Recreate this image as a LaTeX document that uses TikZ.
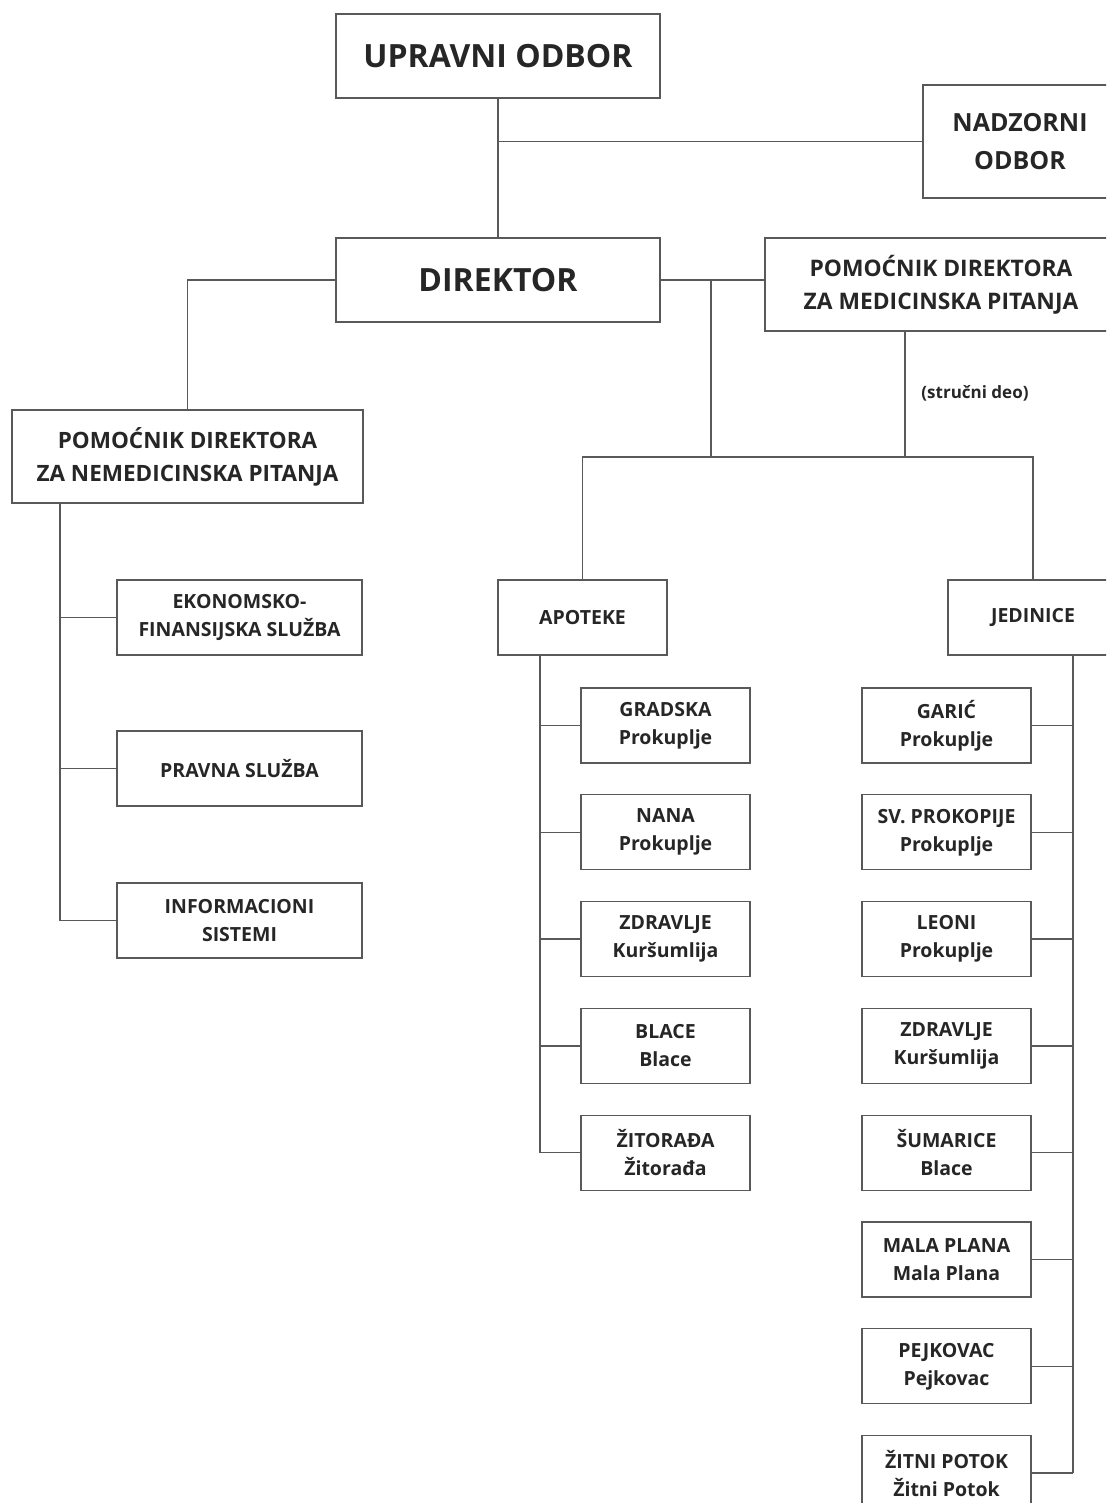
\documentclass[tikz,border=0pt]{standalone}
\usepackage{fontspec}
\setmainfont{Open Sans}
\usetikzlibrary{positioning}
\tikzset{
  box/.style={draw=black!65, line width=1.3pt, align=center, inner sep=0pt,
    font=\bfseries\fontsize{19.5}{28}\selectfont, text=black!85},
  unit/.style={box, minimum width=169pt, minimum height=75pt},
  link/.style={draw=black!65, line width=1.3pt}
}

\begin{document}
\begin{tikzpicture}[x=1pt, y=-1pt]
\useasboundingbox (0,0) rectangle (1106,1503);
\clip (0,0) rectangle (1106,1503);
% top
\node[box, minimum width=324pt, minimum height=84pt, font=\bfseries\fontsize{32}{36}\selectfont] (uo) at (498,56) {UPRAVNI ODBOR};
\node[box, minimum width=324pt, minimum height=84pt, font=\bfseries\fontsize{32}{36}\selectfont] (dir) at (498,280) {DIREKTOR};
\node[box, minimum width=194pt, minimum height=113pt, font=\bfseries\fontsize{25}{38}\selectfont] (nad) at (1020,141.5) {NADZORNI\\ODBOR};
\node[box, minimum width=352pt, minimum height=93pt, font=\bfseries\fontsize{22.8}{33}\selectfont] (pmed) at (941,284.5) {POMOĆNIK DIREKTORA\\ZA MEDICINSKA PITANJA};
\node[box, minimum width=351pt, minimum height=93pt, font=\bfseries\fontsize{22.5}{33}\selectfont] (pnem) at (187.5,456.5) {POMOĆNIK DIREKTORA\\ZA NEMEDICINSKA PITANJA};
\draw[link] (uo) -- (dir);
\draw[link] (uo |- nad.west) -- (nad.west);
\draw[link] (dir.west) -| (pnem.north);
\draw[link] (dir.east) -- (dir.east -| pmed.west);
% left services
\node[unit, minimum width=245pt] (eko) at (239.5,617.5) {EKONOMSKO-\\FINANSIJSKA SLUŽBA};
\node[unit, minimum width=245pt] (prav) at (239.5,768.5) {PRAVNA SLUŽBA};
\node[unit, minimum width=245pt] (info) at (239.5,920.5) {INFORMACIONI\\SISTEMI};
\coordinate (ltop) at (60,503);
\draw[link] (ltop) |- (info.west);
\foreach \n in {eko,prav}
  \draw[link] (ltop |- \n.west) -- (\n.west);
% medical part
\node[unit] (apo) at (582.5,617.5) {APOTEKE};
\node[unit, minimum width=170pt] (jed) at (1033,617.5) {JEDINICE};
\coordinate (split) at (711,457);
\coordinate (mid) at (905,457);
\draw[link] (split |- dir.east) -- (split);
\draw[link] (mid |- pmed.south) -- (mid);
\draw[link] (apo.north) |- (split) -- (mid) -| (jed.north);
\node[font=\bfseries\fontsize{17}{20}\selectfont, text=black!85] (str) at (975,393) {(stručni deo)};
% apoteke
\coordinate (atop) at (540,655);
\foreach \t [count=\i from 0] in {GRADSKA\\Prokuplje, NANA\\Prokuplje, ZDRAVLJE\\Kuršumlija, BLACE\\Blace, ŽITORAĐA\\Žitorađa}
{
  \node[unit] (a\i) at (665.5,725.5+106.8*\i) {\t};
  \draw[link] (atop |- a\i.west) -- (a\i.west);
}
\draw[link] (atop) -- (atop |- a4.west);
% jedinice
\coordinate (jtop) at (1073,655);
\foreach \t [count=\i from 0] in {GARIĆ\\Prokuplje, SV. PROKOPIJE\\Prokuplje, LEONI\\Prokuplje, ZDRAVLJE\\Kuršumlija, ŠUMARICE\\Blace, MALA PLANA\\Mala Plana, PEJKOVAC\\Pejkovac, ŽITNI POTOK\\Žitni Potok}
{
  \node[unit] (j\i) at (946.5,725.5+106.8*\i) {\t};
  \draw[link] (jtop |- j\i.east) -- (j\i.east);
}
\draw[link] (jtop) -- (jtop |- j7.east);
\end{tikzpicture}
\end{document}
